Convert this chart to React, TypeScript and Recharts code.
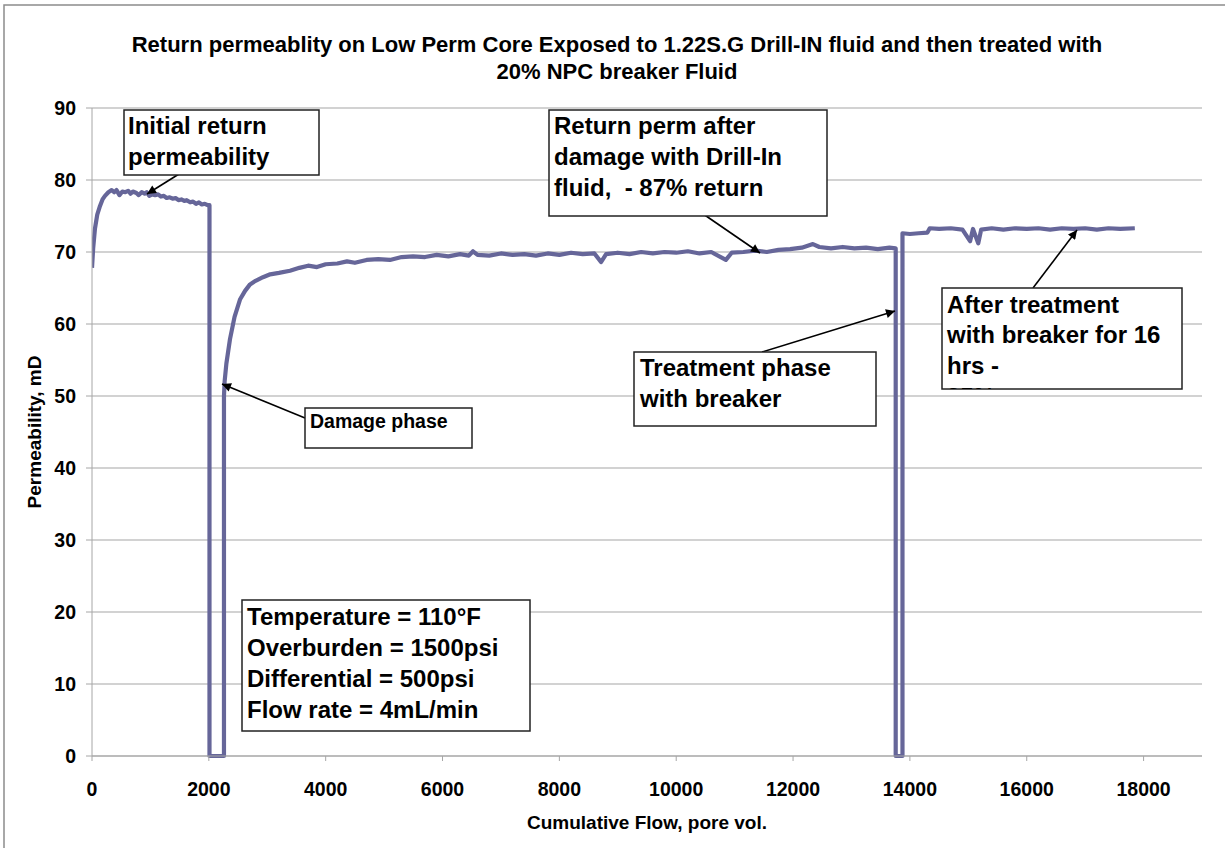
import React from 'react';
import { LineChart, Line, XAxis, YAxis, CartesianGrid } from 'recharts';

const flowValues: number[] = [
  0, 20, 50, 90, 137, 180, 222, 280, 337, 380, 420, 470, 520, 570, 620, 660, 700, 760, 800, 850,
  900, 936, 980, 1030, 1080, 1130, 1180, 1230, 1278, 1330, 1380, 1430, 1480, 1530, 1580, 1621, 1680,
  1730, 1780, 1830, 1880, 1930, 1980, 2011, 2011, 2259, 2259, 2270, 2300, 2362, 2440, 2533, 2620,
  2705, 2800, 2927, 3050, 3200, 3389, 3550, 3700, 3850, 4000, 4200, 4365, 4500, 4700, 4900, 5100,
  5300, 5495, 5700, 5900, 6100, 6300, 6450, 6522, 6600, 6800, 7000, 7200, 7400, 7600, 7800, 8000,
  8200, 8400, 8600, 8713, 8800, 9000, 9200, 9400, 9600, 9800, 10000, 10200, 10400, 10600, 10850,
  10950, 11150, 11350, 11550, 11750, 11950, 12150, 12340, 12450, 12650, 12850, 13050, 13250, 13450,
  13650, 13757, 13757, 13873, 13873, 14000, 14150, 14300, 14340, 14500, 14700, 14900, 15030, 15080,
  15170, 15220, 15400, 15600, 15800, 16000, 16200, 16400, 16600, 16800, 17000, 17200, 17400, 17600,
  17850,
];

const permValues: number[] = [
  67.8, 70.5, 73.2, 75.2, 76.4, 77.3, 77.8, 78.3, 78.6, 78.3, 78.6, 77.9, 78.4, 78.3, 78.5, 78.1,
  78.4, 78.2, 77.9, 78.3, 78.1, 78.3, 77.8, 78.0, 77.9, 78.0, 77.7, 77.8, 77.5, 77.6, 77.4, 77.5,
  77.2, 77.3, 77.1, 77.2, 76.9, 77.0, 76.7, 76.9, 76.6, 76.7, 76.5, 76.5, 0, 0, 50, 52, 54.5, 57.9,
  61, 63.4, 64.6, 65.5, 66.0, 66.5, 66.9, 67.1, 67.4, 67.8, 68.1, 67.9, 68.3, 68.4, 68.7, 68.5, 68.9,
  69.0, 68.9, 69.3, 69.4, 69.3, 69.6, 69.4, 69.7, 69.5, 70.1, 69.6, 69.5, 69.8, 69.6, 69.7, 69.5,
  69.8, 69.6, 69.9, 69.7, 69.8, 68.6, 69.7, 69.9, 69.7, 70.0, 69.8, 70.0, 69.9, 70.1, 69.8, 70.0,
  68.9, 69.9, 70.0, 70.2, 70.0, 70.3, 70.4, 70.6, 71.1, 70.7, 70.5, 70.7, 70.5, 70.6, 70.4, 70.6,
  70.5, 0, 0, 72.6, 72.5, 72.6, 72.7, 73.3, 73.2, 73.3, 73.1, 71.5, 73.2, 71.2, 73.1, 73.3, 73.1,
  73.3, 73.2, 73.3, 73.1, 73.3, 73.2, 73.3, 73.1, 73.3, 73.2, 73.3,
];

const xTicks: number[] = [0, 2000, 4000, 6000, 8000, 10000, 12000, 14000, 16000, 18000];
const yTicks: number[] = [0, 10, 20, 30, 40, 50, 60, 70, 80, 90];

const titleLines: string[] = [
  'Return permeablity on Low Perm Core Exposed to 1.22S.G Drill-IN fluid and then treated with',
  '20% NPC breaker Fluid',
];
const xAxisTitle = 'Cumulative Flow, pore vol.';
const yAxisTitle = 'Permeability, mD';

const data = flowValues.map((f, i) => ({ flow: f, perm: permValues[i] }));

const FONT = '"Liberation Sans", Arial, Helvetica, sans-serif';

type Note = {
  box: [number, number, number, number];
  lines: string[];
  tx: number;
  baselines: number[];
  size: number;
  arrow?: [number, number, number, number];
};

const notes: Note[] = [
  {
    box: [124, 110, 319, 175],
    lines: ['Initial return', 'permeability'],
    tx: 128,
    baselines: [134, 165],
    size: 24,
    arrow: [179, 174, 147, 194],
  },
  {
    box: [305, 408, 472, 448],
    lines: ['Damage phase'],
    tx: 310,
    baselines: [428],
    size: 19.5,
    arrow: [305, 418, 222, 384],
  },
  {
    box: [549, 110, 827, 216],
    lines: ['Return perm after', 'damage with Drill-In', 'fluid,  - 87% return'],
    tx: 554,
    baselines: [134, 165, 196],
    size: 24,
    arrow: [677, 196, 760, 253],
  },
  {
    box: [634, 352, 876, 426],
    lines: ['Treatment phase', 'with breaker'],
    tx: 640,
    baselines: [376, 407],
    size: 24,
    arrow: [762, 352, 895, 311],
  },
  {
    box: [942, 288, 1182, 389],
    lines: ['After treatment', 'with breaker for 16', 'hrs -', '95% return'],
    tx: 947,
    baselines: [313, 343, 374, 405],
    size: 24,
    arrow: [1033, 288, 1077, 230],
  },
  {
    box: [242, 600, 530, 731],
    lines: ['Temperature = 110°F', 'Overburden = 1500psi', 'Differential = 500psi', 'Flow rate = 4mL/min'],
    tx: 247,
    baselines: [625, 655.5, 686.5, 717.5],
    size: 24,
  },
];

export default function App() {
  return (
    <div style={{ position: 'absolute', left: 0, top: 0, width: 1225, height: 848, background: '#fff', fontFamily: FONT }}>
      <LineChart
        width={1225}
        height={848}
        data={data}
        margin={{ top: 108, right: 23, bottom: 0, left: 0 }}
      >
        <CartesianGrid vertical={false} horizontal={true} stroke="#A6A6A6" strokeWidth={1.2} />
        <XAxis
          dataKey="flow"
          type="number"
          domain={[0, 19000]}
          ticks={xTicks}
          interval={0}
          allowDataOverflow
          height={92}
          tickSize={5}
          tickMargin={21}
          stroke="#A6A6A6"
          tick={{ fill: '#000', fontSize: 19.5, fontWeight: 'bold', fontFamily: FONT }}
        />
        <YAxis
          type="number"
          domain={[0, 90]}
          ticks={yTicks}
          interval={0}
          width={92}
          tickSize={6}
          tickMargin={10}
          stroke="#A6A6A6"
          tick={{ fill: '#000', fontSize: 19.5, fontWeight: 'bold', fontFamily: FONT }}
        />
        <Line
          type="linear"
          dataKey="perm"
          stroke="#666699"
          strokeWidth={4.2}
          strokeLinejoin="round"
          dot={false}
          activeDot={false}
          isAnimationActive={false}
        />
      </LineChart>
      <svg
        width={1225}
        height={848}
        style={{ position: 'absolute', left: 0, top: 0, pointerEvents: 'none' }}
        fontFamily={FONT}
      >
        <defs>
          <marker id="ah" viewBox="0 0 10 10" refX="10" refY="5" markerWidth="10" markerHeight="9" markerUnits="userSpaceOnUse" orient="auto">
            <path d="M0,0 L10,5 L0,10 z" fill="#000" />
          </marker>
          {notes.map((n, i) => (
            <clipPath id={'clip' + i} key={i}>
              <rect x={n.box[0]} y={n.box[1]} width={n.box[2] - n.box[0]} height={n.box[3] - n.box[1]} />
            </clipPath>
          ))}
        </defs>
        <rect x={4} y={5} width={1400} height={1000} fill="none" stroke="#8C8C8C" strokeWidth={1.5} />
        {titleLines.map((t, i) => (
          <text key={i} x={617} y={52 + i * 27} textAnchor="middle" fontSize={22} fontWeight="bold" fill="#000">
            {t}
          </text>
        ))}
        <text x={647} y={829} textAnchor="middle" fontSize={19} fontWeight="bold" fill="#000">
          {xAxisTitle}
        </text>
        <text
          x={41}
          y={432}
          textAnchor="middle"
          fontSize={19}
          fontWeight="bold"
          fill="#000"
          transform="rotate(-90 41 432)"
        >
          {yAxisTitle}
        </text>
        {notes.map((n, i) => (
          <g key={i}>
            {n.arrow && (
              <line
                x1={n.arrow[0]}
                y1={n.arrow[1]}
                x2={n.arrow[2]}
                y2={n.arrow[3]}
                stroke="#000"
                strokeWidth={1.6}
                markerEnd="url(#ah)"
              />
            )}
            <rect
              x={n.box[0]}
              y={n.box[1]}
              width={n.box[2] - n.box[0]}
              height={n.box[3] - n.box[1]}
              fill="#fff"
              stroke="#222"
              strokeWidth={1.5}
            />
            <g clipPath={`url(#clip${i})`}>
              {n.lines.map((l, j) => (
                <text key={j} x={n.tx} y={n.baselines[j]} fontSize={n.size} fontWeight="bold" fill="#000" style={{ whiteSpace: 'pre' }}>
                  {l}
                </text>
              ))}
            </g>
          </g>
        ))}
      </svg>
    </div>
  );
}
